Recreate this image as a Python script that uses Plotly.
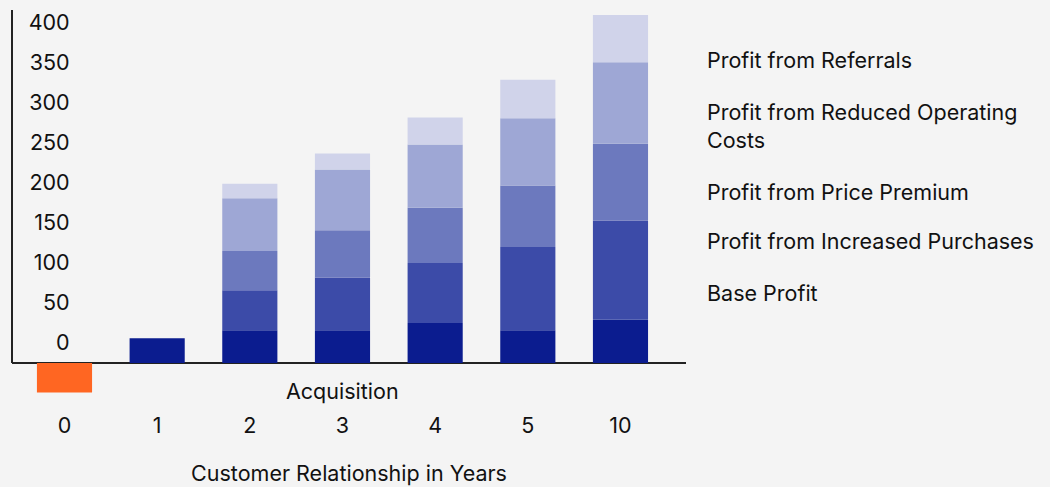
import plotly.graph_objects as go

years = ["0", "1", "2", "3", "4", "5", "10"]
series_names = [
    "Base Profit",
    "Profit from Increased Purchases",
    "Profit from Price Premium",
    "Profit from Reduced Operating Costs",
    "Profit from Referrals",
]
base_profit = [None, 31, 41, 41, 50, 41, 54]
increased_purchases = [None, None, 50, 66, 75, 104, 124]
price_premium = [None, None, 49, 59, 69, 77, 96]
reduced_costs = [None, None, 66, 76, 79, 84, 102]
referrals = [None, None, 18, 20, 34, 48, 59]
acquisition_cost = [-37, None, None, None, None, None, None]
y_ticks = [0, 50, 100, 150, 200, 250, 300, 350, 400]

series_values = [base_profit, increased_purchases, price_premium, reduced_costs, referrals]
colors = ["#0B1C8F", "#3C4BA8", "#6C79BE", "#9EA7D5", "#D0D3EA"]
label_y = [0.2744, 0.4077, 0.5333, 0.7026, 0.8718]

FONT = "Inter, Roboto, sans-serif"
FS = 21.5
Y_RANGE = [-46.25, 441.25]
x_pos = list(range(len(years)))

fig = go.Figure()
fig.add_trace(go.Bar(x=x_pos, y=acquisition_cost, name="Acquisition Cost",
                     marker=dict(color="#FF6622", line=dict(width=0)), showlegend=False))
for name, vals, c in zip(series_names, series_values, colors):
    fig.add_trace(go.Bar(x=x_pos, y=vals, name=name,
                         marker=dict(color=c, line=dict(width=0)), showlegend=False))

fig.update_layout(
    barmode="relative",
    bargap=0.405,
    width=1050, height=487,
    margin=dict(l=12, r=364, t=10, b=87),
    paper_bgcolor="#F4F4F4", plot_bgcolor="#F4F4F4",
    font=dict(family=FONT, size=FS, color="#111111"),
    xaxis=dict(
        range=[-0.5665, 6.707], tickvals=x_pos, ticktext=years,
        showline=False, showgrid=False, zeroline=False, ticks="",
        ticklabelstandoff=10, automargin=False,
        title=dict(text="Customer Relationship in Years", standoff=29,
                   font=dict(size=FS)),
    ),
    yaxis=dict(range=Y_RANGE, showgrid=False, showticklabels=False, ticks="",
               zeroline=True, zerolinecolor="#222222", zerolinewidth=2,
               showline=False, automargin=False),
    yaxis2=dict(range=Y_RANGE, overlaying="y", anchor="free", position=0.0856,
                side="left", tickvals=y_ticks, showgrid=False, zeroline=False,
                showline=False, ticks="", ticklabelshift=-21, automargin=False),
)
# invisible trace to activate yaxis2
fig.add_trace(go.Scatter(x=[None], y=[None], yaxis="y2", showlegend=False))

# y axis line
fig.add_shape(type="line", xref="paper", yref="y", x0=0, x1=0, y0=0, y1=Y_RANGE[1],
              line=dict(color="#222222", width=2))

fig.add_annotation(text="Acquisition", x=3, y=-35, xref="x", yref="y",
                   showarrow=False, font=dict(size=FS))

for name, ly in zip(series_names, label_y):
    text = name
    if name == "Profit from Reduced Operating Costs":
        text = "Profit from Reduced Operating<br>Costs"
    fig.add_annotation(text=text, x=1.0282, y=ly, xref="paper", yref="paper",
                       xanchor="left", yanchor="middle", align="left",
                       showarrow=False, font=dict(size=FS))

fig.write_html("out.html", config={"displayModeBar": False},
               post_script="document.body.style.margin='0';")
